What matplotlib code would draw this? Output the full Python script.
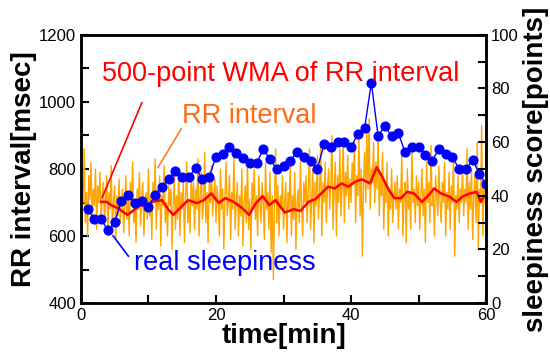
import numpy as np
import matplotlib.pyplot as plt
from matplotlib.ticker import MultipleLocator

plt.rcParams['font.family'] = ['Liberation Sans', 'DejaVu Sans']

# RR interval [msec], one value every 1/6 min
rr = [
    690, 760, 700, 860, 640, 730, 600, 780, 710, 820, 660, 740, 690, 800, 620, 750, 700, 790, 650, 720,
    760, 640, 710, 780, 600, 730, 680, 810, 620, 700, 750, 590, 720, 660, 770, 640, 700, 740, 610, 690,
    780, 650, 720, 600, 760, 690, 820, 640, 700, 580, 740, 680, 790, 630, 710, 760, 600, 700, 730, 650,
    800, 660, 720, 590, 760, 700, 830, 620, 740, 680, 780, 570, 720, 690, 810, 640, 700, 600, 750, 690,
    740, 560, 700, 780, 620, 720, 650, 800, 600, 730, 680, 760, 580, 710, 820, 640, 700, 610, 770, 690,
    760, 620, 740, 680, 830, 600, 720, 790, 650, 700, 850, 640, 730, 580, 760, 700, 810, 660, 720, 770,
    640, 750, 700, 600, 800, 680, 740, 560, 720, 820, 660, 700, 780, 590, 730, 680, 840, 620, 700, 760,
    600, 720, 660, 800, 570, 700, 750, 640, 830, 620, 710, 560, 760, 690, 800, 650, 720, 600, 780, 700,
    640, 760, 700, 590, 820, 680, 730, 620, 790, 550, 720, 470, 700, 860, 640, 750, 600, 720, 680, 780,
    620, 700, 760, 580, 730, 680, 830, 600, 720, 650, 790, 560, 700, 740, 640, 820, 690, 600, 760, 700,
    780, 640, 740, 860, 620, 710, 800, 580, 760, 690, 840, 650, 730, 880, 600, 760, 700, 820, 640, 740,
    800, 680, 760, 900, 620, 740, 820, 600, 780, 700, 860, 660, 750, 890, 640, 790, 720, 840, 680, 770,
    700, 820, 760, 880, 640, 780, 720, 900, 660, 800, 540, 760, 850, 700, 920, 740, 950, 680, 800, 760,
    880, 700, 820, 740, 900, 660, 780, 720, 850, 620, 760, 700, 820, 600, 740, 680, 800, 640, 720, 760,
    680, 780, 620, 740, 700, 840, 600, 720, 760, 580, 800, 680, 730, 620, 860, 700, 740, 640, 780, 690,
    760, 620, 720, 800, 660, 740, 580, 820, 700, 760, 640, 870, 690, 730, 600, 780, 720, 660, 810, 700,
    640, 760, 700, 820, 600, 730, 680, 790, 620, 750, 700, 840, 540, 720, 680, 780, 640, 740, 700, 800,
    660, 740, 700, 860, 620, 760, 680, 800, 590, 720, 780, 640, 880, 560, 740, 700, 930, 600, 760, 700,
]
t_rr = np.arange(len(rr)) / 6.0

# 500-point weighted moving average
t_wma = [3.0, 3.8, 4.5, 5.5, 6.9, 7.9, 8.8, 9.8, 10.5, 12.0, 13.0, 13.7, 14.9, 15.9, 17.2,
         18.2, 19.3, 20.4, 21.4, 22.6, 23.9, 24.9, 25.9, 26.9, 27.9, 28.8, 29.9, 30.2, 31.5,
         32.5, 33.7, 34.7, 35.7, 36.6, 37.6, 38.6, 39.6, 40.6, 41.6, 42.8, 43.8, 44.6, 45.6,
         46.4, 47.4, 48.3, 49.3, 50.5, 51.5, 52.3, 53.3, 54.6, 55.6, 56.6, 57.6, 58.6, 59.2, 59.6]
wma = [702, 702, 692, 683, 663, 678, 692, 690, 702, 707, 678, 663, 688, 707, 698,
       707, 727, 699, 713, 702, 683, 663, 698, 719, 692, 707, 678, 670, 680,
       675, 702, 710, 729, 747, 742, 757, 747, 762, 769, 757, 805, 777, 737,
       713, 713, 732, 727, 702, 722, 742, 727, 717, 702, 719, 727, 732, 702, 717]

# real sleepiness score, once per minute
t_sl = list(range(1, 61))
sleep = [35.1, 31.2, 31.2, 27.2, 30.1, 38.1, 40.3, 37.2, 38.1, 35.9,
         40.3, 43.2, 46.2, 49.3, 47.1, 47.1, 50.3, 46.2, 47.1, 54.6,
         55.6, 58.1, 56.1, 54.2, 52.1, 52.1, 57.4, 53.6, 50.0, 51.2,
         53.1, 56.2, 54.4, 53.1, 50.0, 59.2, 58.1, 60.2, 60.2, 58.1,
         63.1, 65.2, 82.2, 62.3, 66.0, 62.3, 63.3, 56.2, 58.1, 58.1,
         55.2, 53.1, 57.4, 55.5, 54.4, 50.0, 50.0, 53.4, 48.1, 44.3]

fig = plt.figure(figsize=(5.5, 3.63), dpi=100)
ax = fig.add_axes([0.147, 0.165, 0.737, 0.739])
ax.plot(t_rr, rr, color='#FFA500', lw=1.0)
ax.plot(t_wma, wma, color='#FF0000', lw=1.8)
ax.set_xlim(0, 60)
ax.set_ylim(400, 1200)
ax.xaxis.set_major_locator(MultipleLocator(20))
ax.xaxis.set_minor_locator(MultipleLocator(10))
ax.yaxis.set_major_locator(MultipleLocator(200))
ax.yaxis.set_minor_locator(MultipleLocator(100))
ax.tick_params(which='both', direction='in', length=6, width=1.5, labelsize=12, top=False)
ax.set_xlabel('time[min]', fontsize=20, fontweight='bold', labelpad=0)
ax.set_ylabel('RR interval[msec]', fontsize=20, fontweight='bold', labelpad=1)

ax2 = ax.twinx()
ax2.plot(t_sl, sleep, color='#0000FF', lw=1, marker='o', ms=6.3)
ax2.set_ylim(0, 100)
ax2.yaxis.set_major_locator(MultipleLocator(20))
ax2.yaxis.set_minor_locator(MultipleLocator(10))
ax2.tick_params(which='both', direction='in', length=6, width=1.5, labelsize=12)
ax2.set_ylabel('sleepiness score[points]', fontsize=20, fontweight='bold', labelpad=3)
for a in (ax, ax2):
    for s in a.spines.values():
        s.set_linewidth(1.8)

ax.annotate('', xy=(3.0, 707), xytext=(9.2, 1006),
            arrowprops=dict(arrowstyle='-', color='#FF0000', lw=1.2))
ax.annotate('', xy=(11.2, 797), xytext=(15.1, 928),
            arrowprops=dict(arrowstyle='-', color='#FF7F27', lw=1.2))
ax.annotate('', xy=(4.5, 608), xytext=(7.3, 533),
            arrowprops=dict(arrowstyle='-', color='#0000FF', lw=1.2))
ax2.text(3.2, 85.5, '500-point WMA of RR interval', color='#FF0000', fontsize=19.5, va='center')
ax2.text(15.0, 69.8, 'RR interval', color='#FF6A13', fontsize=19.5, va='center')
ax2.text(7.8, 14.8, 'real sleepiness', color='#0000FF', fontsize=19.5, va='center')

fig.savefig('out.png', dpi=100)
